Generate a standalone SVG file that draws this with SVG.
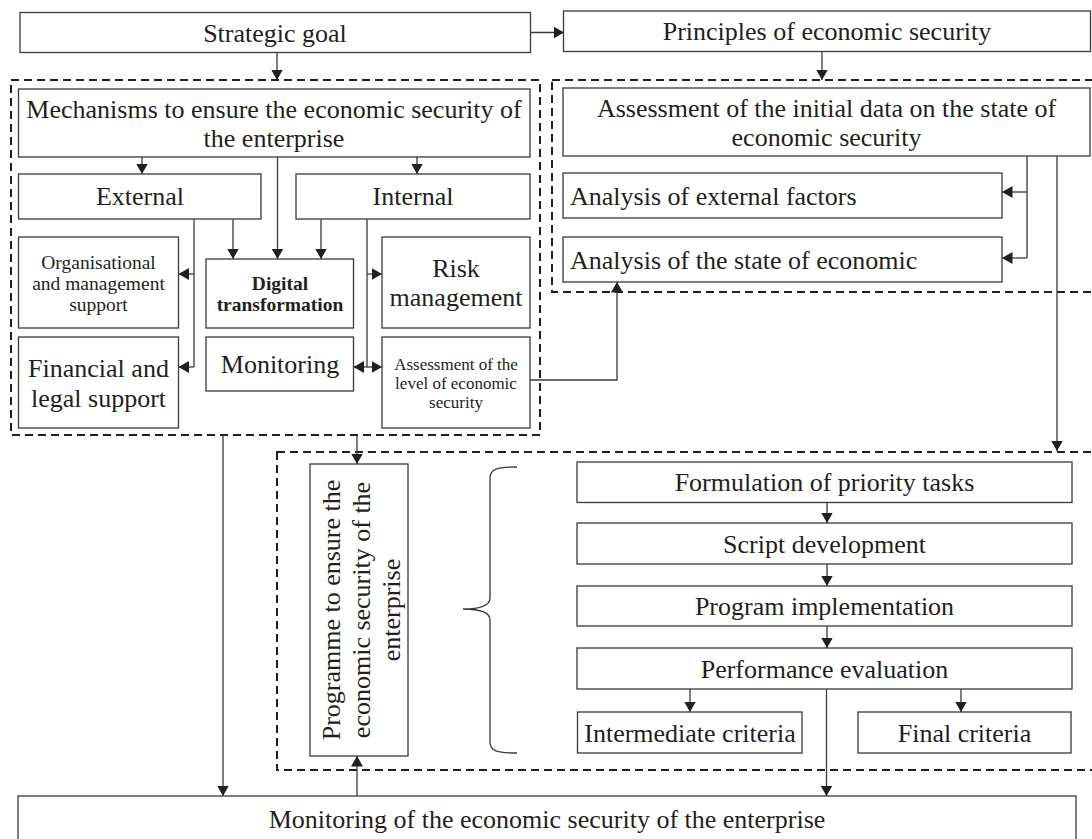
<svg xmlns="http://www.w3.org/2000/svg" width="1092" height="839" viewBox="0 0 1092 839">
<defs>
<marker id="ah" markerUnits="userSpaceOnUse" markerWidth="11" markerHeight="12" refX="10.5" refY="6" orient="auto">
<path d="M0,0 L10.5,6 L0,12 Z" fill="#231f20"/>
</marker>
<style>
.box{fill:#fff;stroke:#3a3a3a;stroke-width:1.3}
.dash{fill:none;stroke:#231f20;stroke-width:2;stroke-dasharray:8 5}
.ln{fill:none;stroke:#3a3a3a;stroke-width:1.3}
.ar{fill:none;stroke:#3a3a3a;stroke-width:1.3;marker-end:url(#ah)}
text{font-family:"Liberation Serif","Times New Roman",serif;fill:#231f20}
.t26{font-size:26px}
.t19{font-size:19.5px}
.t17{font-size:17px}
.c{text-anchor:middle}
.b{font-weight:bold}
</style>
</defs>
<rect width="1092" height="839" fill="#fff"/>

<g id="dashed-frames">
<rect class="dash" x="11" y="80" width="529" height="355"/>
<rect class="dash" x="552" y="80" width="560" height="212"/>
<rect class="dash" x="277" y="452" width="830" height="318"/>
</g>

<g id="connectors">
<path class="ar" d="M530.5,32.5 H564"/>
<path class="ar" d="M277,52.5 V80"/>
<path class="ar" d="M822,51.5 V80"/>
<path class="ar" d="M142,157 V174"/>
<path class="ar" d="M417,157 V174"/>
<path class="ar" d="M277.5,157 V259"/>
<path class="ar" d="M233,219 V259"/>
<path class="ar" d="M321,219 V259"/>
<path class="ln" d="M194,219 V367"/>
<path class="ar" d="M194,274 H178.5"/>
<path class="ar" d="M194,367 H178.5"/>
<path class="ln" d="M367,219 V367"/>
<path class="ar" d="M367,274 H382"/>
<path class="ar" d="M367,367 H353.5"/>
<path class="ar" d="M367,367 H382"/>
<path class="ar" d="M530,380 H617 V282"/>
<path class="ln" d="M1027,156 V258"/>
<path class="ar" d="M1027,192 H1002"/>
<path class="ar" d="M1027,258 H1002"/>
<path class="ar" d="M1057,156 V451"/>
<path class="ar" d="M357,435 V464"/>
<path class="ar" d="M223,435 V796"/>
<path class="ar" d="M357,796 V756"/>
<path class="ar" d="M827,502.5 V523"/>
<path class="ar" d="M827,564 V586"/>
<path class="ar" d="M827,626 V648"/>
<path class="ar" d="M690,689 V712"/>
<path class="ar" d="M961,689 V712"/>
<path class="ar" d="M826.5,689 V796"/>
<path class="ln" d="M517,467 C497,467 490,469 490,478 L490,598 C490,605 482,609 463,609 C482,609 490,613 490,620 L490,742 C490,751 497,753 517,753"/>
</g>

<g id="strategic-goal">
<rect class="box" x="20" y="12.5" width="510.5" height="40"/>
<text class="t26 c" x="275" y="41.5">Strategic goal</text>
</g>
<g id="principles">
<rect class="box" x="563.5" y="11" width="527" height="40.5"/>
<text class="t26 c" x="827" y="40">Principles of economic security</text>
</g>
<g id="mechanisms">
<rect class="box" x="18.5" y="89" width="511.5" height="68"/>
<text class="t26 c" x="274" y="117.5">Mechanisms to ensure the economic security of</text>
<text class="t26 c" x="274" y="146.5">the enterprise</text>
</g>
<g id="external">
<rect class="box" x="18.5" y="174" width="242.5" height="45"/>
<text class="t26 c" x="140" y="205">External</text>
</g>
<g id="internal">
<rect class="box" x="296" y="174" width="234" height="45"/>
<text class="t26 c" x="413" y="205">Internal</text>
</g>
<g id="organisational">
<rect class="box" x="18.5" y="237" width="160" height="91"/>
<text class="t19 c" x="98.5" y="269">Organisational</text>
<text class="t19 c" x="98.5" y="290">and management</text>
<text class="t19 c" x="98.5" y="311">support</text>
</g>
<g id="digital">
<rect class="box" x="206" y="259" width="147.5" height="69"/>
<text class="t19 c b" x="280" y="290">Digital</text>
<text class="t19 c b" x="280" y="311">transformation</text>
</g>
<g id="risk">
<rect class="box" x="382" y="237" width="148" height="91"/>
<text class="t26 c" x="456" y="277">Risk</text>
<text class="t26 c" x="456" y="306">management</text>
</g>
<g id="financial">
<rect class="box" x="18.5" y="337" width="160" height="91"/>
<text class="t26 c" x="98.5" y="376.5">Financial and</text>
<text class="t26 c" x="98.5" y="406.5">legal support</text>
</g>
<g id="monitoring">
<rect class="box" x="206" y="337" width="147.5" height="54"/>
<text class="t26 c" x="280" y="373">Monitoring</text>
</g>
<g id="assessment-level">
<rect class="box" x="382" y="337" width="148" height="91"/>
<text class="t17 c" x="456" y="369.5">Assessment of the</text>
<text class="t17 c" x="456" y="388.5">level of economic</text>
<text class="t17 c" x="456" y="407.5">security</text>
</g>
<g id="assessment-initial">
<rect class="box" x="563" y="88" width="527" height="68"/>
<text class="t26 c" x="826.5" y="116.5">Assessment of the initial data on the state of</text>
<text class="t26 c" x="826.5" y="146">economic security</text>
</g>
<g id="analysis-external">
<rect class="box" x="563" y="173" width="439" height="45"/>
<text class="t26" x="570" y="204.5">Analysis of external factors</text>
</g>
<g id="analysis-state">
<rect class="box" x="563" y="237" width="439" height="45"/>
<text class="t26" x="570" y="268.5">Analysis of the state of economic</text>
</g>
<g id="programme">
<rect class="box" x="310" y="464" width="98" height="292"/>
<g transform="translate(359,610) rotate(-90)">
<text class="t26 c" x="0" y="-19">Programme to ensure the</text>
<text class="t26 c" x="0" y="11">economic security of the</text>
<text class="t26 c" x="0" y="41">enterprise</text>
</g>
</g>
<g id="formulation">
<rect class="box" x="577" y="462" width="495" height="40.5"/>
<text class="t26 c" x="824.5" y="491">Formulation of priority tasks</text>
</g>
<g id="script">
<rect class="box" x="577" y="523" width="495" height="41"/>
<text class="t26 c" x="824.5" y="552.5">Script development</text>
</g>
<g id="program-implementation">
<rect class="box" x="577" y="586" width="495" height="40"/>
<text class="t26 c" x="824.5" y="615">Program implementation</text>
</g>
<g id="performance">
<rect class="box" x="577" y="648" width="495" height="41"/>
<text class="t26 c" x="824.5" y="677.5">Performance evaluation</text>
</g>
<g id="intermediate">
<rect class="box" x="577.5" y="712" width="224.5" height="41"/>
<text class="t26 c" x="690" y="741.5">Intermediate criteria</text>
</g>
<g id="final">
<rect class="box" x="858" y="712" width="213" height="41"/>
<text class="t26 c" x="964.5" y="741.5">Final criteria</text>
</g>
<g id="monitoring-enterprise">
<rect class="box" x="18" y="796" width="1058" height="50"/>
<text class="t26 c" x="547" y="828">Monitoring of the economic security of the enterprise</text>
</g>
</svg>
